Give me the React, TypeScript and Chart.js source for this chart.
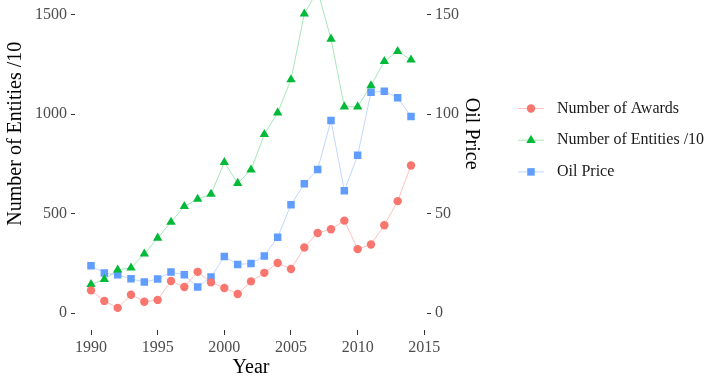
import React, { useEffect, useRef } from "react";
import { Chart, registerables } from "chart.js";

Chart.register(...registerables);

const years = [1990, 1991, 1992, 1993, 1994, 1995, 1996, 1997, 1998, 1999, 2000, 2001, 2002, 2003, 2004, 2005, 2006, 2007, 2008, 2009, 2010, 2011, 2012, 2013, 2014];
const awards = [115, 62, 27, 93, 58, 67, 162, 132, 208, 155, 127, 97, 160, 203, 252, 222, 330, 403, 422, 465, 322, 345, 442, 563, 742];
const entitiesDiv10 = [145, 170, 218, 228, 298, 378, 458, 537, 573, 598, 758, 653, 720, 898, 1007, 1173, 1503, 1620, 1377, 1037, 1037, 1143, 1265, 1315, 1272];
const oilPrice = [23.8, 20.2, 19.3, 17.3, 15.7, 17.2, 20.7, 19.3, 13.2, 18.2, 28.5, 24.5, 25.0, 28.8, 38.2, 54.5, 65.0, 72.2, 96.8, 61.5, 79.3, 111.0, 111.5, 108.2, 98.8];

const xTicks = [1990, 1995, 2000, 2005, 2010, 2015];
const leftTicks = [0, 500, 1000, 1500];
const rightTicks = [0, 50, 100, 150];
const seriesLabels = ["Number of Awards", "Number of Entities /10", "Oil Price"];
const xTitle = "Year";
const leftTitle = "Number of Entities /10";
const rightTitle = "Oil Price";

const RED = "#F8766D";
const GREEN = "#00BA38";
const BLUE = "#619CFF";
const RED_LINE = "rgba(248,118,109,0.45)";
const GREEN_LINE = "rgba(0,186,56,0.35)";
const BLUE_LINE = "rgba(97,156,255,0.4)";

const FONT = "'Liberation Serif', 'Times New Roman', serif";
const TOP_SHIFT = 68;
const CANVAS_H = 448;

const legendPlugin = {
  id: "ggLegend",
  afterDraw(chart: any) {
    const ctx = chart.ctx;
    const styles = [
      { c: RED, l: RED_LINE, s: "circle" },
      { c: GREEN, l: GREEN_LINE, s: "triangle" },
      { c: BLUE, l: BLUE_LINE, s: "rect" },
    ];
    const cx = 531;
    const y0 = 108.5 + TOP_SHIFT;
    const dy = 31.7;
    ctx.save();
    styles.forEach((st, i) => {
      const y = y0 + i * dy;
      ctx.strokeStyle = st.l;
      ctx.lineWidth = 1;
      ctx.beginPath();
      ctx.moveTo(518, y);
      ctx.lineTo(544, y);
      ctx.stroke();
      ctx.fillStyle = st.c;
      ctx.beginPath();
      if (st.s === "circle") {
        ctx.arc(cx, y, 4.2, 0, Math.PI * 2);
      } else if (st.s === "triangle") {
        const r = 5.4;
        ctx.moveTo(cx, y - r);
        ctx.lineTo(cx + r * Math.sin((2 * Math.PI) / 3), y + r / 2);
        ctx.lineTo(cx - r * Math.sin((2 * Math.PI) / 3), y + r / 2);
        ctx.closePath();
      } else {
        ctx.rect(cx - 3.75, y - 3.75, 7.5, 7.5);
      }
      ctx.fill();
      ctx.fillStyle = "#1a1a1a";
      ctx.font = `16px ${FONT}`;
      ctx.textBaseline = "middle";
      ctx.textAlign = "left";
      ctx.fillText(seriesLabels[i], 557, y);
    });
    ctx.restore();
  },
};

export default function App() {
  const ref = useRef<HTMLCanvasElement | null>(null);

  useEffect(() => {
    if (!ref.current) return;
    const mk = (arr: number[]) => years.map((x, i) => ({ x, y: arr[i] }));
    const chart = new Chart(ref.current, {
      type: "line",
      data: {
        datasets: [
          {
            label: seriesLabels[0],
            data: mk(awards),
            yAxisID: "y",
            borderColor: RED_LINE,
            borderWidth: 1,
            pointStyle: "circle",
            pointRadius: 4.2,
            pointBackgroundColor: RED,
            pointBorderWidth: 0,
            tension: 0,
          },
          {
            label: seriesLabels[1],
            data: mk(entitiesDiv10),
            yAxisID: "y",
            borderColor: GREEN_LINE,
            borderWidth: 1,
            pointStyle: "triangle",
            pointRadius: 5.4,
            pointBackgroundColor: GREEN,
            pointBorderWidth: 0,
            tension: 0,
          },
          {
            label: seriesLabels[2],
            data: mk(oilPrice),
            yAxisID: "y2",
            borderColor: BLUE_LINE,
            borderWidth: 1,
            pointStyle: "rect",
            pointRadius: 5.3,
            pointBackgroundColor: BLUE,
            pointBorderWidth: 0,
            tension: 0,
          },
        ],
      },
      options: {
        responsive: false,
        animation: false,
        layout: { padding: { left: 0, top: 0, bottom: 0, right: 219 } },
        plugins: { legend: { display: false }, tooltip: { enabled: false } },
        scales: {
          x: {
            type: "linear",
            position: "bottom",
            min: 1988.8,
            max: 2015.2,
            afterBuildTicks: (s: any) => {
              s.ticks = xTicks.map((v) => ({ value: v }));
            },
            afterFit: (s: any) => {
              s.height = 50;
              s.paddingLeft = 0;
              s.paddingRight = 0;
            },
            grid: { display: true, drawOnChartArea: false, drawTicks: true, tickLength: 5, color: "#333333", tickWidth: 1 },
            border: { display: false },
            ticks: { autoSkip: false, maxRotation: 0, padding: 3, color: "#4D4D4D", font: { family: FONT, size: 16 }, callback: (v: any) => String(v) },
            title: { display: true, text: xTitle, color: "#000", font: { family: FONT, size: 20 }, padding: { top: 0, bottom: 0 } },
          },
          y: {
            type: "linear",
            position: "left",
            min: -84,
            max: 1887,
            afterBuildTicks: (s: any) => {
              s.ticks = leftTicks.map((v) => ({ value: v }));
            },
            afterFit: (s: any) => {
              s.width = 75;
              s.paddingTop = 0;
              s.paddingBottom = 0;
            },
            grid: { display: true, drawOnChartArea: false, drawTicks: true, tickLength: 4, color: "#333333", tickWidth: 1 },
            border: { display: false },
            ticks: { padding: 4, color: "#4D4D4D", font: { family: FONT, size: 16 }, callback: (v: any) => String(v) },
            title: { display: true, text: leftTitle, color: "#000", font: { family: FONT, size: 20 }, padding: { top: 4, bottom: 0 } },
          },
          y2: {
            type: "linear",
            position: "right",
            min: -8.4,
            max: 188.7,
            afterBuildTicks: (s: any) => {
              s.ticks = rightTicks.map((v) => ({ value: v }));
            },
            afterFit: (s: any) => {
              s.width = 60;
              s.paddingTop = 0;
              s.paddingBottom = 0;
            },
            grid: { display: true, drawOnChartArea: false, drawTicks: true, tickLength: 4, color: "#333333", tickWidth: 1 },
            border: { display: false },
            ticks: { padding: 4, color: "#4D4D4D", font: { family: FONT, size: 16 }, callback: (v: any) => String(v) },
            title: { display: true, text: rightTitle, color: "#000", font: { family: FONT, size: 20 }, padding: { top: 4, bottom: 0 } },
          },
        },
      },
      plugins: [legendPlugin],
    } as any);
    return () => chart.destroy();
  }, []);

  return (
    <div style={{ position: "fixed", left: 0, top: -TOP_SHIFT, width: 706, height: CANVAS_H, background: "#fff" }}>
      <canvas ref={ref} width={706} height={CANVAS_H} style={{ display: "block", width: 706, height: CANVAS_H }} />
    </div>
  );
}
